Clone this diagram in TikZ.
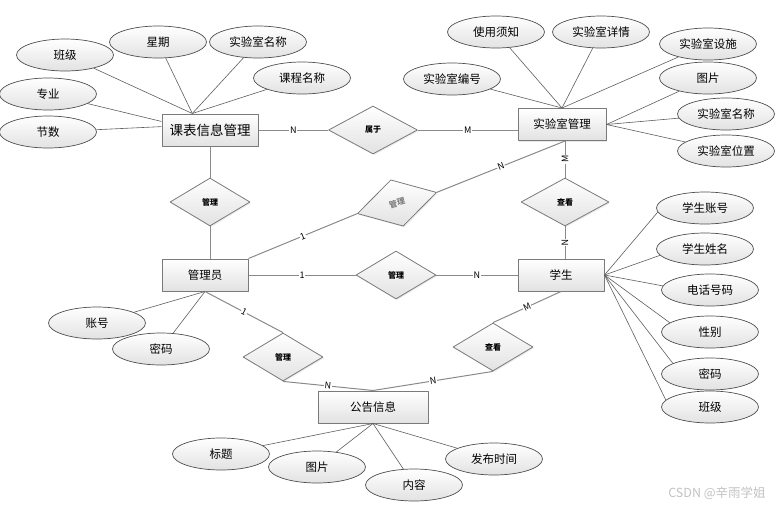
\documentclass[tikz,border=0pt]{standalone}
\usepackage{fontspec}
\usepackage{xcolor}
\usepackage{tikz}
\usetikzlibrary{shapes.geometric,shadows}
\newfontfamily\cjk{Noto Sans CJK SC}
\definecolor{wire}{HTML}{8A8A8A}
\definecolor{spoke}{HTML}{5E5E5E}
\definecolor{edge}{HTML}{7A7A7A}
\definecolor{rim}{HTML}{4F4F4F}
\definecolor{shade}{HTML}{E2E2E2}
\definecolor{mark}{HTML}{C2C2C2}
\tikzset{er/.style={x=1pt,y=-1pt,line join=round},
  ent/.style={rectangle,draw=edge,line width=1pt,top color=white,bottom color=shade,minimum height=32pt,inner sep=0pt,
    font=\cjk\fontsize{11.5}{12}\selectfont,drop shadow={opacity=0.18,shadow xshift=1.2pt,shadow yshift=-1.2pt}},
  att/.style={ellipse,draw=rim,line width=0.7pt,top color=white,bottom color=shade,minimum width=97pt,minimum height=32pt,
    inner sep=0pt,font=\cjk\fontsize{11.5}{12}\selectfont},
  rel/.style={diamond,draw=edge,line width=0.8pt,top color=white,bottom color=shade,minimum width=80pt,minimum height=48pt,
    inner sep=0pt,font=\cjk\bfseries\fontsize{8}{9}\selectfont,drop shadow={opacity=0.15,shadow xshift=1.2pt,shadow yshift=-1.2pt}},
  spk/.style={spoke,line width=0.6pt},
  lnk/.style={wire,line width=1pt},
  card/.style={font=\cjk\fontsize{9}{10}\selectfont,text=black,fill=white,inner sep=0.6pt,sloped}}

\begin{document}
\begin{tikzpicture}[er]
  \useasboundingbox(0,0)rectangle(780,507);
  \node[ent,minimum width=96pt,font=\cjk\fontsize{13.5}{14}\selectfont](kb)at(210,130){课表信息管理};
  \node[ent,minimum width=88pt](sy)at(562,124.5){实验室管理};
  \node[ent,minimum width=86pt](gly)at(205,275){管理员};
  \node[ent,minimum width=86pt](xs)at(561,275){学生};
  \node[ent,minimum width=110pt](gg)at(373,407){公告信息};
  \node[rel,minimum width=89pt](shuyu)at(373,130){属于};
  \node[rel](glkb)at(210,202){管理};
  \node[rel,minimum width=88pt](ckxs)at(565,202){查看};
  \node[rel,rotate=15,minimum width=82pt,text=gray](glsy)at(397,203){管理};
  \node[rel](glxs)at(396,275){管理};
  \node[rel](glgg)at(283,357){管理};
  \node[rel](ckgg)at(493,347){查看};
  \node[att](bj)at(65,55){班级};
  \node[att](xq)at(158,42){星期};
  \node[att](mc)at(258,42){实验室名称};
  \node[att](kc)at(302,78){课程名称};
  \node[att](zy)at(48,94){专业};
  \node[att](js)at(48,132){节数};
  \node[att](xz)at(496,32){使用须知};
  \node[att](xqing)at(601,32){实验室详情};
  \node[att](ss)at(708,44){实验室设施};
  \node[att](tp)at(708,78){图片};
  \node[att](symc)at(726,114){实验室名称};
  \node[att](wz)at(726,151){实验室位置};
  \node[att](bh)at(452,79){实验室编号};
  \node[att](xszh)at(705,208){学生账号};
  \node[att](xsxm)at(705,249){学生姓名};
  \node[att](dh)at(710,290){电话号码};
  \node[att](xb)at(710,332){性别};
  \node[att](xsmm)at(710,374){密码};
  \node[att](xsbj)at(710,407){班级};
  \node[att](zh)at(97,323){账号};
  \node[att](mm)at(161,349){密码};
  \node[att](bt)at(221,454){标题};
  \node[att](ggtp)at(317,467){图片};
  \node[att](nr)at(414,485){内容};
  \node[att](fb)at(494,459){发布时间};
  \node[font=\cjk\fontsize{12.5}{13}\selectfont,text=mark](wm)at(717,493){CSDN @辛雨学姐};

  \draw[spk](bj)--(kb.137);
  \draw[spk](xq)--(kb.137);
  \draw[spk](mc)--(kb.137);
  \draw[spk](kc)--(kb.137);
  \draw[spk](zy)--(kb.170);
  \draw[spk](js)--(kb.176);
  \draw[spk](bh)--(sy.north);
  \draw[spk](xz)--(sy.north);
  \draw[spk](xqing)--(sy.north);
  \draw[spk](ss)--(sy.north);
  \draw[spk](tp)--(sy.east);
  \draw[spk](symc)--(sy.east);
  \draw[spk](wz)--(sy.east);
  \draw[spk](xs.east)--(xszh.185);
  \draw[spk](xs.east)--(xsxm.188);
  \draw[spk](xs.east)--(dh.175);
  \draw[spk](xs.east)--(xb.167);
  \draw[spk](xs.east)--(xsmm.164);
  \draw[spk](xs.east)--(xsbj.171);
  \draw[spk](zh)--(gly.south);
  \draw[spk](mm)--(gly.south);
  \draw[spk](bt)--(gg.south);
  \draw[spk](ggtp)--(gg.south);
  \draw[spk](nr)--(gg.south);
  \draw[spk](fb)--(gg.south);

  \draw[lnk](kb)--node[card]{N}(shuyu);
  \draw[lnk](shuyu)--node[card]{M}(shuyu-|sy.west);
  \draw[lnk](kb)--(glkb);
  \draw[lnk](glkb)--(glkb|-gly.north);
  \draw[lnk](gly.north east)--node[card]{1}(glsy.west);
  \draw[lnk](glsy.east)--node[card]{N}(ckxs.north|-sy.south);
  \draw[lnk](ckxs)--node[card]{M}(ckxs.north|-sy.south);
  \draw[lnk](ckxs)--node[card]{N}(ckxs|-xs.north);
  \draw[lnk](gly)--node[card]{1}(glxs);
  \draw[lnk](glxs)--node[card]{N}(xs);
  \draw[lnk](gly.south)--node[card]{1}(glgg.north);
  \draw[lnk](glgg.south)--node[card]{N}(gg.north);
  \draw[lnk](xs.south)--node[card]{M}(ckgg.north);
  \draw[lnk](ckgg.south)--node[card]{N}(gg.north);
\end{tikzpicture}
\end{document}
